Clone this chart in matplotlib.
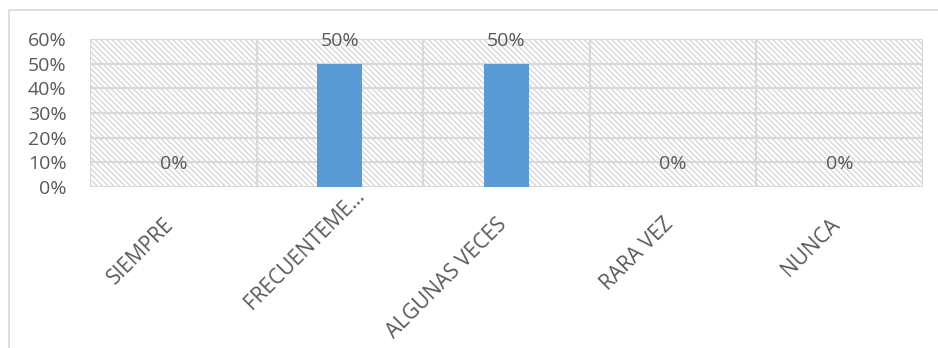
import matplotlib
matplotlib.use("Agg")
import matplotlib.pyplot as plt
import matplotlib.transforms as mtransforms
from matplotlib.patches import Rectangle
from matplotlib.lines import Line2D

categories = ["SIEMPRE", "FRECUENTEME...", "ALGUNAS VECES", "RARA VEZ", "NUNCA"]
values = [0.0, 0.5, 0.5, 0.0, 0.0]
yticks = [0, 0.1, 0.2, 0.3, 0.4, 0.5, 0.6]
ytick_labels = ["0%", "10%", "20%", "30%", "40%", "50%", "60%"]

FONT = ["Open Sans", "DejaVu Sans"]
TXT = "#595959"
GRID = "#D9D9D9"
plt.rcParams["font.family"] = FONT
plt.rcParams["hatch.linewidth"] = 0.9

W, H = 938, 348
fig = plt.figure(figsize=(W / 100, H / 100), dpi=100)
ax = fig.add_axes([90 / W, 1 - 187 / H, (923 - 90) / W, (187 - 39) / H])

n = len(categories)
ax.set_xlim(-0.5, n - 0.5)
ax.set_ylim(0, 0.6)

# hatched background
bg = Rectangle((0, 0), 1, 1, transform=ax.transAxes, facecolor="white",
               edgecolor="#D4D4D4", hatch="\\" * 6, linewidth=0, zorder=0)
ax.add_patch(bg)
ax.patch.set_visible(False)

# grid
for y in yticks:
    ax.axhline(y, color=GRID, lw=1.6, zorder=1)
for i in range(n + 1):
    ax.axvline(i - 0.5, color=GRID, lw=1.6, zorder=1)

xs = list(range(n))
ax.bar(xs, values, width=0.27, color="#5B9BD5", zorder=2)

for x, v in zip(xs, values):
    ax.annotate(f"{v*100:.0f}%", (x, v), xytext=(0, 16.5), textcoords="offset points",
                ha="center", va="center", fontsize=14, color=TXT, zorder=3)

for s in ax.spines.values():
    s.set_visible(False)

ax.set_yticks(yticks)
ax.set_yticklabels(ytick_labels, fontsize=14, color=TXT)
ax.tick_params(axis="y", length=0, pad=17)
ax.set_xticks([])

# x category labels
for i, lab in enumerate(categories):
    dx, dy = (-10, -27)
    if lab.endswith("..."):
        dx, dy = (14, 2)
    tr = mtransforms.blended_transform_factory(ax.transData, ax.transAxes) + \
        mtransforms.ScaledTranslation(dx / 100, dy / 100, fig.dpi_scale_trans)
    ax.text(i, 0, lab, transform=tr, rotation=45, rotation_mode="anchor",
            ha="right", va="top", fontsize=15, color=TXT)

# outer chart border (left and top)
fig.add_artist(Line2D([8.5 / W, 8.5 / W, 1.0], [0, 1 - 10 / H, 1 - 10 / H],
                      transform=fig.transFigure, color="#D9D9D9", lw=1.2))

fig.savefig("out.png", dpi=100)
